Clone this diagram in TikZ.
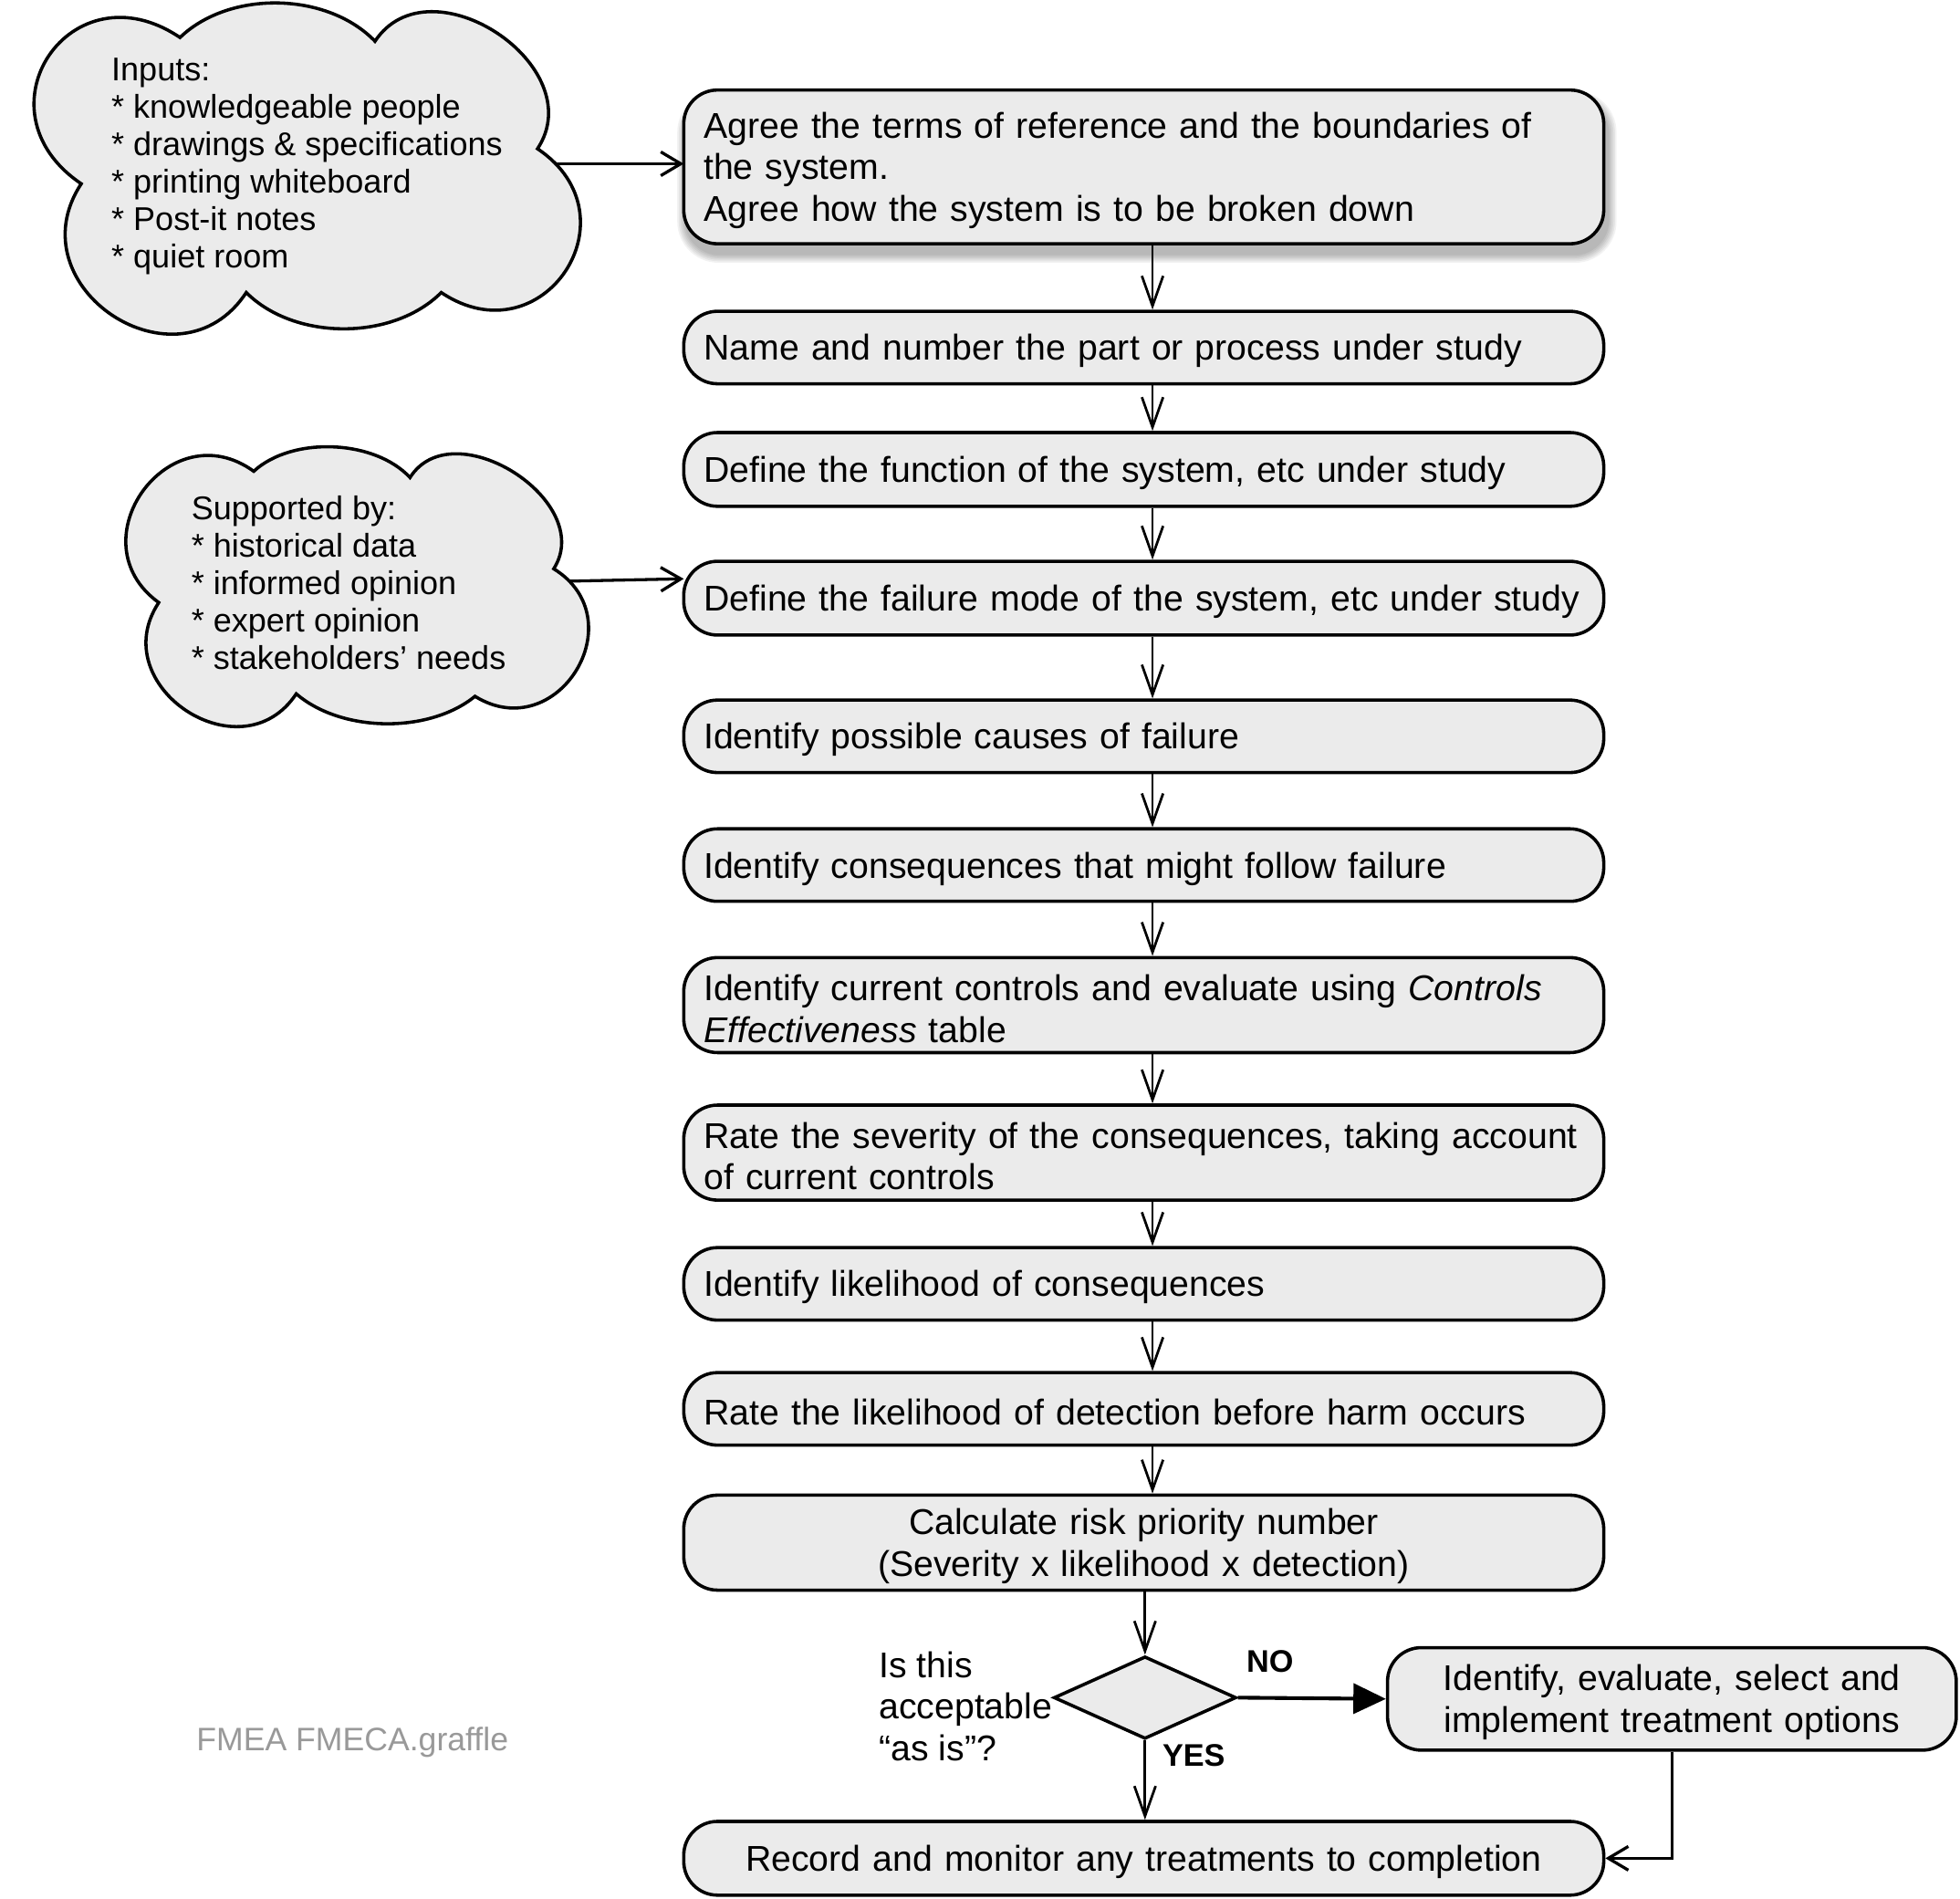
\documentclass[tikz,border=0pt]{standalone}
\usepackage{fontspec}
\setmainfont{Liberation Sans}
\usetikzlibrary{arrows.meta,shapes.geometric}
\definecolor{boxfill}{HTML}{EBEBEB}
\definecolor{labelgray}{HTML}{999999}
\newcommand\mainsz{\fontsize{28.65pt}{33.5pt}\selectfont}
\newcommand\cloudsz{\fontsize{26.3pt}{30pt}\selectfont}
\newcommand\labsz{\fontsize{25pt}{30pt}\selectfont}
\newcommand\fnamesz{\fontsize{26pt}{30pt}\selectfont}
\newcommand\oneline[1]{\mbox{#1}}
\begin{document}
\begin{tikzpicture}[x=1pt,y=-1pt,
  stepbox/.style={draw, line width=2.6pt, fill=boxfill, rounded corners=27pt,
    minimum width=736pt, text width=704pt, inner xsep=16pt, inner ysep=0pt,
    align=left, font=\mainsz, execute at begin node={\rule{0pt}{26.5pt}}},
  cloudline/.style={draw, line width=2.6pt, fill=boxfill},
  cloudtext/.style={align=left, font=\cloudsz, inner sep=0pt, anchor=west},
  arr/.style={line width=2pt, -{Straight Barb[length=24pt,width=17pt,line width=2pt]}},
  arrb/.style={line width=2.4pt, -{Straight Barb[length=16pt,width=19pt,line width=2.4pt]}},
  arrt/.style={line width=3pt, -{Triangle[length=26pt,width=24pt]}},
]
\useasboundingbox (0,0) rectangle (1568,1518.4);
\fill[white] (0,0) rectangle (1568,1518.4);

% connectors leaving the clouds (drawn first, the clouds cover their start)
\coordinate (c1out) at (440,131);
\coordinate (c2out) at (450,465);
\coordinate (b4in) at (547,463);
\draw[arrb] (c1out) -- (547,131) coordinate (b1in);
\draw[arrb] (c2out) -- (b4in);

% cloud 1
\draw[cloudline] (65,147) to[bend left=90, looseness=1.9] (144,30)
  to[bend left=45, looseness=0.9] (300,33)
  to[bend left=90, looseness=1.3] (430,119)
  to[bend left=90, looseness=1.8] (353,234)
  to[bend left=45, looseness=0.9] (197,234)
  to[bend left=90, looseness=1.6] (65,147) -- cycle;
\node[cloudtext] (c1) at (89,133) {Inputs:\\* knowledgeable people\\* drawings \& specifications\\* printing whiteboard\\* Post-it notes\\* quiet room};

% cloud 2
\draw[cloudline] (127,482) to[bend left=90, looseness=1.65] (203,377)
  to[bend left=45, looseness=0.85] (328,382)
  to[bend left=90, looseness=1.2] (443,455)
  to[bend left=90, looseness=1.65] (380,557)
  to[bend left=40, looseness=0.85] (237,555)
  to[bend left=90, looseness=1.55] (127,482) -- cycle;
\node[cloudtext] (c2) at (153,466) {Supported by:\\* historical data\\* informed opinion\\* expert opinion\\* stakeholders’ needs};

% soft shadow of the first box
\foreach \i in {1,...,6}
  \fill[black, opacity=0.05, rounded corners=27pt+\i pt]
    (549-1.2*\i, 80-1.2*\i) rectangle (1286+1.2*\i, 203+1.2*\i);

% main boxes
\node[stepbox, minimum height=123pt] (b1) at (915,133.5)
  {\oneline{Agree the terms of reference and the boundaries of}\\the system.\\Agree how the system is to be broken down};
\node[stepbox, minimum height=58pt] (b2) at (915,278) {Name and number the part or process under study};
\node[stepbox, minimum height=59pt] (b3) at (915,375.5) {Define the function of the system, etc under study};
\node[stepbox, minimum height=59pt] (b4) at (915,478.5) {\oneline{Define the failure mode of the system, etc under study}};
\node[stepbox, minimum height=58pt] (b5) at (915,589) {Identify possible causes of failure};
\node[stepbox, minimum height=58pt] (b6) at (915,692) {Identify consequences that might follow failure};
\node[stepbox, minimum height=76pt] (b7) at (915,804) {\oneline{Identify current controls and evaluate using \textit{Controls}}\\\textit{Effectiveness} table};
\node[stepbox, minimum height=76pt] (b8) at (915,922) {\oneline{Rate the severity of the consequences, taking account}\\of current controls};
\node[stepbox, minimum height=58pt] (b9) at (915,1027) {Identify likelihood of consequences};
\node[stepbox, minimum height=58pt] (b10) at (915,1127) {Rate the likelihood of detection before harm occurs};
\node[stepbox, minimum height=76pt, align=center] (b11) at (915,1234) {Calculate risk priority number\\(Severity x likelihood x detection)};
\node[diamond, draw, line width=2.6pt, fill=boxfill, minimum width=146pt, minimum height=66pt, inner sep=0pt] (dec) at (916,1358) {};
\node[stepbox, minimum width=455pt, text width=423pt, minimum height=82pt, align=center] (treat) at (1337.5,1359) {Identify, evaluate, select and\\implement treatment options};
\node[stepbox, minimum height=59pt, align=center] (fin) at (915,1486.5) {Record and monitor any treatments to completion};

% labels
\node[align=left, font=\mainsz, anchor=west, inner sep=0pt] (q) at (703,1365) {Is this\\acceptable\\“as is”?};
\node[font=\labsz\bfseries, inner sep=0pt] (no) at (1016,1329) {NO};
\node[font=\labsz\bfseries, inner sep=0pt] (yes) at (955,1404) {YES};
\node[font=\fnamesz, text=labelgray, anchor=west, inner sep=0pt] (fname) at (157,1394) {FMEA FMECA.graffle};

% connectors between the steps
\coordinate (ax) at (922,0);
\draw[arr] (b1.south -| ax) -- (b2.north -| ax);
\draw[arr] (b2.south -| ax) -- (b3.north -| ax);
\draw[arr] (b3.south -| ax) -- (b4.north -| ax);
\draw[arr] (b4.south -| ax) -- (b5.north -| ax);
\draw[arr] (b5.south -| ax) -- (b6.north -| ax);
\draw[arr] (b6.south -| ax) -- (b7.north -| ax);
\draw[arr] (b7.south -| ax) -- (b8.north -| ax);
\draw[arr] (b8.south -| ax) -- (b9.north -| ax);
\draw[arr] (b9.south -| ax) -- (b10.north -| ax);
\draw[arr] (b10.south -| ax) -- (b11.north -| ax);
\draw[arr] (b11.south -| dec) -- (dec.north);
\draw[arr] (dec.south) -- (fin.north -| dec);
\draw[arrt] (dec.east) -- (treat.west);
\draw[arrb] (treat.south) |- (fin.east);
\end{tikzpicture}
\end{document}
